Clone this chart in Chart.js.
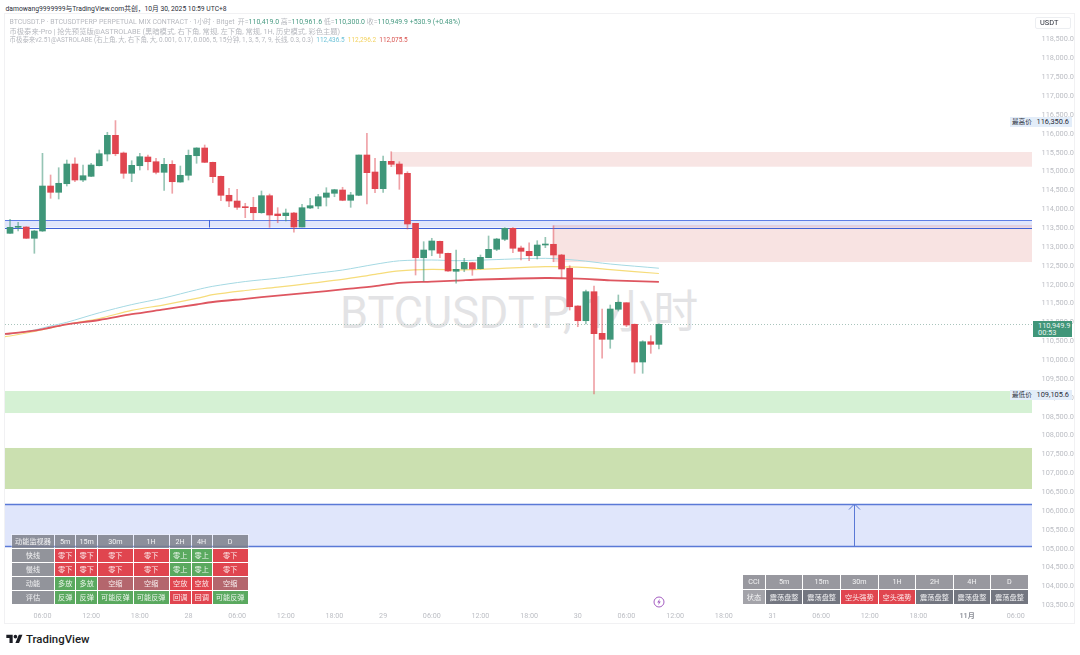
<!DOCTYPE html>
<html>
<head>
<meta charset="utf-8">
<title>BTCUSDT.P 1小时</title>
<script src="https://cdn.jsdelivr.net/npm/chart.js@4"></script>
<style>
  html, body { margin: 0; padding: 0; background: #fff; }
  body { width: 1080px; height: 655px; position: relative; overflow: hidden; font-family: Roboto, "Noto Sans CJK SC", sans-serif; }
  #shared { position: absolute; left: 5.5px; top: 3.5px; font-size: 6.75px; line-height: 10px; color: #2a2e39; white-space: nowrap; }
  #frame { position: absolute; left: 5px; top: 14px; width: 1069px; height: 609px; outline: 1px solid #f1f1f3; }
  #watermark { position: absolute; left: 340px; top: 284px; font-size: 45px; line-height: 58px; color: #e3e3e5; white-space: nowrap; z-index: 0; }
  #price-chart { position: absolute; left: 5px; top: 14px; z-index: 1; }
  .legend { position: absolute; left: 9.5px; font-size: 6.95px; line-height: 9px; color: #b7b9bf; white-space: nowrap; z-index: 2; }
  .legend .up { color: #4a9c84; }
  .tag { position: absolute; font-size: 7.4px; line-height: 10px; color: #2a2e39; background: #e3edf9; z-index: 2; white-space: nowrap; }
  #usdt { position: absolute; left: 1035px; top: 17px; width: 36px; height: 12px; box-sizing: border-box; border: 1px solid #eceef1; border-radius: 2px; font-size: 7.4px; line-height: 10px; padding-left: 4px; color: #2a2e39; z-index: 2; }
  #last-tag { position: absolute; left: 1033px; top: 321px; width: 39px; height: 16px; background: #409679; color: #e8f4f0; font-size: 7.4px; line-height: 7.5px; z-index: 2; box-sizing: border-box; padding: 0.5px 0 0 5px; }
  .panel { position: absolute; z-index: 2; border-collapse: collapse; table-layout: fixed; font-size: 7.2px; color: rgba(255,255,255,.88); text-align: center; }
  .panel td { padding: 0; overflow: hidden; white-space: nowrap; border: 0.5px solid rgba(255,255,255,.25); }
  #bolt { position: absolute; left: 653px; top: 596px; z-index: 2; }
  #logo { position: absolute; left: 6px; top: 633px; z-index: 2; }
  #logo-text { position: absolute; left: 26px; top: 631px; font-size: 11.4px; line-height: 16px; font-weight: 500; color: #1b1d24; z-index: 2; }
</style>
</head>
<body>
<div id="shared">damowang9999999与TradingView.com共创，10月 30, 2025 10:59 UTC+8</div>
<div id="frame"></div>
<div id="watermark">BTCUSDT.P, 1小时</div>
<canvas id="price-chart" width="1069" height="609"></canvas>

<div class="legend" style="top:17.5px">BTCUSDT.P · BTCUSDTPERP PERPETUAL MIX CONTRACT · 1小时 · Bitget &nbsp;开=<span class="up">110,419.0</span> 高=<span class="up">110,961.6</span> 低=<span class="up">110,300.0</span> 收=<span class="up">110,949.9</span> <span class="up">+530.9 (+0.48%)</span></div>
<div class="legend" style="top:26.5px;font-size:7.3px">币极泰来-Pro | 抢先预览版@ASTROLABE (黑暗模式, 右下角, 常规, 左下角, 常规, 1H, 历史模式, 彩色主题)</div>
<div class="legend" style="top:35.5px;font-size:6.45px">币极泰来v2.51@ASTROLABE (右上角, 大, 右下角, 大, 0.001, 0.17, 0.006, 5, 15分钟, 1, 3, 5, 7, 9, 长线, 0.3, 0.3) &nbsp;<span style="color:#6fc3d8">112,436.5</span> &nbsp;<span style="color:#f3d25f">112,296.2</span> &nbsp;<span style="color:#d9534f">112,075.5</span></div>

<div id="usdt">USDT</div>
<div class="tag" style="left:1010px;top:117px;width:62px;height:10px"><span style="position:absolute;left:2px;font-size:6.6px">最高价</span><span style="position:absolute;right:3px">116,350.6</span></div>
<div class="tag" style="left:1010px;top:390px;width:62px;height:10px"><span style="position:absolute;left:2px;font-size:6.6px">最低价</span><span style="position:absolute;right:3px">109,105.6</span></div>
<div id="last-tag">110,949.9<br>00:53</div>

<svg id="bolt" width="12" height="12" viewBox="0 0 12 12"><circle cx="6" cy="6" r="5" fill="#fff" stroke="#a35cc0" stroke-width="1"/><path d="M6.8 2.8 4.2 6.4h1.7l-.7 2.8 2.6-3.6H6.1z" fill="#a35cc0"/></svg>
<svg id="logo" width="17" height="10" viewBox="0 0 36 22"><path d="M14 22H7V11H0V4h14v18zM28 22h-8l7.5-18h8L28 22z" fill="#1b1d24"/><circle cx="20" cy="8" r="4" fill="#1b1d24"/></svg>
<div id="logo-text">TradingView</div>

<script>
// 1h candles, 27 Oct 02:00 to 30 Oct 10:00
const candleOpen = [
    113362, 113521, 113529, 113230, 113423, 114616, 114449, 114677, 115199, 114775,
    114873, 115154, 115464, 115960, 115491, 114953, 115154, 115385, 115260, 114979,
    115191, 114722, 114900, 115419, 115624, 115244, 114873, 114370, 114218, 114059,
    114051, 113908, 114359, 113874, 113829, 113900, 113529, 114033, 114086, 114317,
    114423, 114510, 114237, 114370, 115438, 114987, 114545, 115271, 115199, 114953,
    113627, 112715, 112919, 113150, 112832, 112355, 112416, 112583, 112424, 112715,
    112938, 113203, 113495, 112973, 112885, 112768, 113052, 113071, 112787, 112434,
    111435, 111045, 111814, 110711, 110552, 111348, 111522, 110950, 109950, 110488,
    110419
];
const candleHigh = [
    113733, 113654, 113537, 113442, 115483, 114908, 115101, 115305, 115366, 115173,
    115218, 115570, 116040, 116350.6, 115517, 115287, 115483, 115438, 115350, 115350,
    115287, 115146, 115570, 115632, 115703, 115250, 114881, 114555, 114529, 114158,
    114317, 114484, 114404, 114041, 114006, 113919, 114131, 114290, 114396, 114571,
    114529, 114582, 114449, 115438, 116013, 115350, 115411, 115525, 115260, 114995,
    113627, 113140, 113230, 113158, 112840, 112919, 112699, 112593, 112787, 113291,
    113230, 113511, 113511, 113026, 113113, 113166, 113256, 113564, 112805, 112503,
    111443, 111859, 111965, 111355, 111461, 111727, 111522, 110958, 110515, 110648,
    110961.6
];
const candleLow = [
    113362, 113423, 113225, 112832, 113410, 114290, 114272, 114616, 114730, 114730,
    114863, 115147, 115279, 115419, 114820, 114730, 115040, 115040, 114934, 114502,
    114423, 114714, 114775, 115218, 115234, 114704, 114226, 114067, 113998, 113776,
    113715, 113892, 113521, 113643, 113688, 113389, 113529, 114014, 114014, 114086,
    114332, 114226, 114051, 114359, 114139, 114438, 114449, 115128, 114529, 113476,
    112257, 112098, 112768, 112715, 112355, 112037, 112344, 112249, 112416, 112715,
    112901, 113166, 112848, 112654, 112636, 112681, 112981, 112609, 112169, 111329,
    110886, 110958, 109105.6, 110049, 110314, 111302, 110886, 109651, 109651, 110181,
    110300
];
const candleClose = [
    113521, 113537, 113230, 113423, 114616, 114449, 114688, 115199, 114775, 114889,
    115173, 115472, 115960, 115472, 114953, 115165, 115393, 115260, 114979, 115191,
    114730, 114900, 115430, 115624, 115244, 114863, 114370, 114218, 114051, 114041,
    113908, 114359, 113847, 113829, 113900, 113529, 114041, 114094, 114332, 114431,
    114518, 114237, 114378, 115438, 114969, 114545, 115271, 115191, 114934, 113609,
    112715, 112919, 113158, 112832, 112363, 112408, 112593, 112416, 112726, 112938,
    113211, 113495, 112965, 112885, 112768, 113052, 113071, 112787, 112416, 111416,
    111045, 111814, 110701, 110552, 111355, 111533, 110931, 109950, 110488, 110419,
    110949.9
];

// moving averages, only at the candles where they were read
const emaHours = [-1, 0, 3, 5, 7, 11, 15, 19, 23, 25, 29, 33, 37, 41, 45, 48, 52, 55, 58, 66, 70, 74, 80];
const emaCyan = [110679, 110693, 110799, 110905, 111003, 111255, 111472, 111650, 111864, 111957, 112084, 112172, 112283, 112389, 112540, 112633, 112654, 112636, 112652, 112699, 112646, 112548, 112436.5];
const emaYellow = [110613, 110640, 110759, 110852, 110950, 111104, 111321, 111467, 111636, 111737, 111846, 111933, 112037, 112140, 112275, 112368, 112408, 112395, 112408, 112477, 112463, 112400, 112296.2];
const emaRed = [110693, 110706, 110780, 110865, 110950, 111064, 111217, 111345, 111475, 111541, 111626, 111711, 111788, 111875, 111960, 112050, 112082, 112106, 112137, 112177, 112161, 112116, 112075.5];

// x axis, hours counted from the first candle
const xTickHours = [4, 10, 16, 22, 28, 34, 40, 46, 52, 58, 64, 70, 76, 82, 88, 94, 100, 106, 112, 118, 124];
const xTickLabels = ['06:00', '12:00', '18:00', '28', '06:00', '12:00', '18:00', '29', '06:00', '12:00', '18:00', '30', '06:00', '12:00', '18:00', '31', '06:00', '12:00', '18:00', '11月', '06:00'];

// y axis labels
const yTickValues = [
    103500, 104000, 104500, 105000, 105500, 106000, 106500, 107000, 107500, 108000, 108500,
    109000, 109500, 110000, 110500, 111000, 111500, 112000, 112500, 113000, 113500,
    114000, 114500, 115000, 115500, 116000, 116500, 117000, 117500, 118000, 118500
];

// drawn boxes on the chart: [high, low, first hour]
const sellZoneTop = [115517, 115128, 47];
const sellZoneMid = [113582, 112601, 67];
const blueBand = [113715, 113516];
const blueBandMark = 24.5;
const greenZoneLight = [109182, 108598];
const greenZoneDark = [107671, 106584];
const blueZone = [106186, 105073];
const arrowHour = 104;
const lastPrice = 110949.9;

// indicator tables
const monitorPeriods = ['5m', '15m', '30m', '1H', '2H', '4H', 'D'];
const monitorFast = ['零下', '零下', '零下', '零下', '零上', '零上', '零下'];
const monitorSlow = ['零下', '零下', '零下', '零下', '零上', '零上', '零下'];
const monitorMomentum = ['多放', '多放', '空缩', '空缩', '空放', '空放', '空缩'];
const monitorRating = ['反弹', '反弹', '可能反弹', '可能反弹', '回调', '回调', '可能反弹'];
const cciPeriods = ['5m', '15m', '30m', '1H', '2H', '4H', 'D'];
const cciStatus = ['震荡盘整', '震荡盘整', '空头强势', '空头强势', '震荡盘整', '震荡盘整', '震荡盘整'];

const GREEN = '#3f9679';
const RED = '#e0454f';
const GREEN_WICK = 'rgba(63, 150, 121, 0.55)';
const RED_WICK = 'rgba(224, 69, 79, 0.5)';
const TEXT_FONT = 'Roboto, "Noto Sans CJK SC", sans-serif';

const hours = candleOpen.map((v, i) => i);
const isUp = hours.map(i => candleClose[i] >= candleOpen[i]);

function dropPadding(scale) {
    scale.paddingTop = 0;
    scale.paddingBottom = 0;
    scale.paddingLeft = 0;
    scale.paddingRight = 0;
}

const zonesPlugin = {
    id: 'zones',
    beforeDatasetsDraw(chart) {
        const { ctx, chartArea, scales } = chart;
        const x = scales.x, y = scales.y;
        const fillZone = (zone, color, from) => {
            const left = from === undefined ? chartArea.left : x.getPixelForValue(from);
            const top = y.getPixelForValue(zone[0]);
            ctx.fillStyle = color;
            ctx.fillRect(left, top, chartArea.right - left, y.getPixelForValue(zone[1]) - top);
        };
        const hLine = (price, color, width) => {
            const py = Math.round(y.getPixelForValue(price)) + 0.5;
            ctx.strokeStyle = color;
            ctx.lineWidth = width;
            ctx.beginPath();
            ctx.moveTo(chartArea.left, py);
            ctx.lineTo(chartArea.right, py);
            ctx.stroke();
        };
        ctx.save();
        fillZone(greenZoneLight, '#d5f1d4');
        fillZone(greenZoneDark, '#cbe0b0');
        fillZone(blueZone, '#e0e6fb');
        hLine(blueZone[0], '#5a79d6', 1.4);
        hLine(blueZone[1], '#5a79d6', 1.4);
        fillZone(blueBand, 'rgba(86, 116, 235, 0.18)');
        fillZone(sellZoneTop, 'rgba(216, 100, 96, 0.17)', sellZoneTop[2]);
        fillZone(sellZoneMid, 'rgba(216, 100, 96, 0.18)', sellZoneMid[2]);
        hLine(blueBand[0], '#5f7fe6', 1.2);
        hLine(blueBand[1], '#3f62d8', 1.2);

        // mark on the band
        const markX = Math.round(x.getPixelForValue(blueBandMark)) + 0.5;
        ctx.strokeStyle = '#3f62d8';
        ctx.lineWidth = 1;
        ctx.beginPath();
        ctx.moveTo(markX, y.getPixelForValue(blueBand[0]));
        ctx.lineTo(markX, y.getPixelForValue(blueBand[1]));
        ctx.stroke();

        // arrow in the blue box
        const arrowX = Math.round(x.getPixelForValue(arrowHour)) + 0.5;
        const arrowTop = y.getPixelForValue(blueZone[0]);
        ctx.strokeStyle = '#5a79d6';
        ctx.beginPath();
        ctx.moveTo(arrowX, y.getPixelForValue(blueZone[1]));
        ctx.lineTo(arrowX, arrowTop);
        ctx.moveTo(arrowX - 5.5, arrowTop + 5.5);
        ctx.lineTo(arrowX, arrowTop);
        ctx.lineTo(arrowX + 5.5, arrowTop + 5.5);
        ctx.stroke();

        // last price line
        ctx.setLineDash([1, 2]);
        hLine(lastPrice, '#a9c4bc', 1);
        ctx.restore();
    }
};

const chart = new Chart(document.getElementById('price-chart').getContext('2d'), {
    type: 'bar',
    data: {
        datasets: [
            {
                type: 'bar',
                label: 'Body',
                data: hours.map(i => ({ x: i, y: [candleOpen[i], candleClose[i]] })),
                backgroundColor: hours.map(i => isUp[i] ? GREEN : RED),
                barThickness: 6,
                minBarLength: 1,
                grouped: false,
                order: 1
            },
            {
                type: 'bar',
                label: 'Wick',
                data: hours.map(i => ({ x: i, y: [candleLow[i], candleHigh[i]] })),
                backgroundColor: hours.map(i => isUp[i] ? GREEN_WICK : RED_WICK),
                barThickness: 1,
                grouped: false,
                order: 2
            },
            {
                type: 'line',
                label: 'EMA long',
                data: emaHours.map((h, i) => ({ x: h, y: emaRed[i] })),
                borderColor: '#de5660',
                borderWidth: 1.8,
                pointRadius: 0,
                tension: 0.3,
                order: 3
            },
            {
                type: 'line',
                label: 'EMA mid',
                data: emaHours.map((h, i) => ({ x: h, y: emaYellow[i] })),
                borderColor: '#f6dc7a',
                borderWidth: 1.2,
                pointRadius: 0,
                tension: 0.3,
                order: 4
            },
            {
                type: 'line',
                label: 'EMA short',
                data: emaHours.map((h, i) => ({ x: h, y: emaCyan[i] })),
                borderColor: '#a5d9e3',
                borderWidth: 1,
                pointRadius: 0,
                tension: 0.3,
                order: 5
            }
        ]
    },
    options: {
        responsive: false,
        animation: false,
        events: [],
        layout: { padding: 0 },
        plugins: {
            legend: { display: false },
            title: { display: false },
            tooltip: { enabled: false }
        },
        scales: {
            x: {
                type: 'linear',
                offset: false,
                min: -0.62,
                max: 126,
                grid: { display: false, drawTicks: false },
                border: { display: false },
                afterFit(scale) {
                    scale.height = 15;
                    dropPadding(scale);
                },
                afterBuildTicks(scale) {
                    scale.ticks = xTickHours.map(h => ({ value: h }));
                },
                ticks: {
                    autoSkip: false,
                    maxRotation: 0,
                    padding: 4,
                    font: ctx => ({ family: TEXT_FONT, size: 7.2, weight: xTickLabels[ctx.index] === '11月' ? '600' : '400' }),
                    color: ctx => xTickLabels[ctx.index] === '11月' ? '#8c8f98' : '#bcbec4',
                    callback: (value, i) => xTickLabels[i]
                }
            },
            y: {
                position: 'right',
                min: 103429,
                max: 119176,
                grid: { display: false, drawTicks: false },
                border: { display: false },
                afterFit(scale) {
                    scale.width = 42;
                    dropPadding(scale);
                },
                afterBuildTicks(scale) {
                    scale.ticks = yTickValues.map(v => ({ value: v }));
                },
                ticks: {
                    autoSkip: false,
                    crossAlign: 'far',
                    padding: 5,
                    font: { family: TEXT_FONT, size: 7.4 },
                    color: '#bcbec4',
                    callback: value => value.toLocaleString('en-US', { minimumFractionDigits: 1, maximumFractionDigits: 1 })
                }
            }
        }
    },
    plugins: [zonesPlugin]
});

// indicator panels as html tables on top of the chart
function monitorColor(text) {
    if (['零下', '空放', '回调'].includes(text)) return RED;
    if (text === '空缩') return '#b4666d';
    return '#5aa95f';
}

function buildPanel(left, top, colWidths, rowHeights, rows) {
    const table = document.createElement('table');
    table.className = 'panel';
    table.style.left = left + 'px';
    table.style.top = top + 'px';
    table.style.width = colWidths.reduce((a, b) => a + b, 0) + 'px';
    const group = document.createElement('colgroup');
    colWidths.forEach(w => {
        const col = document.createElement('col');
        col.style.width = w + 'px';
        group.appendChild(col);
    });
    table.appendChild(group);
    rows.forEach((row, r) => {
        const tr = document.createElement('tr');
        tr.style.height = rowHeights[r] + 'px';
        row.forEach(cell => {
            const td = document.createElement('td');
            td.textContent = cell.text;
            td.style.background = cell.bg;
            tr.appendChild(td);
        });
        table.appendChild(tr);
    });
    document.body.appendChild(table);
}

const HEAD_BG = 'rgba(125, 127, 138, 0.85)';
const labelCell = text => ({ text, bg: 'rgba(140, 142, 150, 0.95)' });
const monitorRow = (label, values) => [labelCell(label)].concat(values.map(text => ({ text, bg: monitorColor(text) })));

buildPanel(11, 534, [43, 21.3, 21.7, 35.7, 36, 22, 21, 36], [13.7, 14, 14, 14, 14], [
    [{ text: '动能监视器', bg: HEAD_BG }].concat(monitorPeriods.map(text => ({ text, bg: HEAD_BG }))),
    monitorRow('快线', monitorFast),
    monitorRow('慢线', monitorSlow),
    monitorRow('动能', monitorMomentum),
    monitorRow('评估', monitorRating)
]);

buildPanel(742, 573.5, [23, 37.3, 37.7, 37.7, 37.6, 37.4, 37.6, 37.4], [15.5, 14.7], [
    [{ text: 'CCI', bg: '#98989f' }].concat(cciPeriods.map(text => ({ text, bg: '#98989f' }))),
    [{ text: '状态', bg: '#a3a3a9' }].concat(cciStatus.map(text => ({ text, bg: text === '空头强势' ? RED : '#737680' })))
]);
</script>
</body>
</html>
